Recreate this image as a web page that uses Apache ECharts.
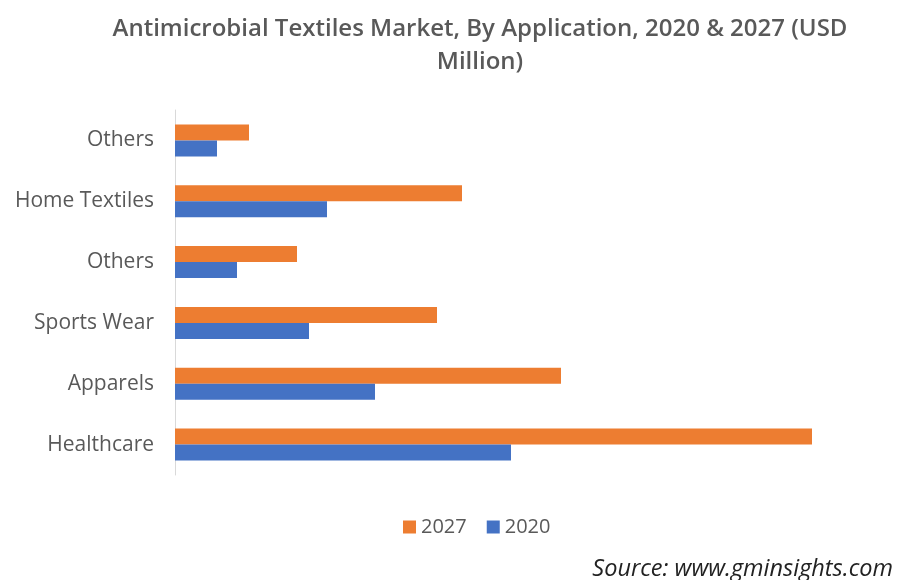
<!DOCTYPE html>
<html>
<head>
<meta charset="utf-8">
<script src="https://cdn.jsdelivr.net/npm/echarts@6/dist/echarts.min.js"></script>
<style>html,body{margin:0;padding:0;background:#fff}#c{width:902px;height:580px}</style>
</head>
<body>
<div id="c"></div>
<script>
// Categories listed bottom to top
const categories = ['Healthcare', 'Apparels', 'Sports Wear', 'Others', 'Home Textiles', 'Others'];
const values2027 = [637, 386, 262, 122, 287, 74];
const values2020 = [336, 200, 134, 62, 152, 42];
const seriesNames = ['2027', '2020'];
const titleText = 'Antimicrobial Textiles Market, By Application, 2020 & 2027 (USD\nMillion)';
const sourceText = 'Source: www.gminsights.com';

const chart = echarts.init(document.getElementById('c'));
chart.setOption({
  animation: false,
  backgroundColor: '#ffffff',
  title: [{
    text: titleText,
    left: 475, top: 8, textAlign: 'center',
    textStyle: { fontFamily: 'Open Sans', fontWeight: 600, fontSize: 24, color: '#595959', lineHeight: 33 }
  }, {
    text: sourceText,
    right: 4, top: 553,
    textStyle: { fontFamily: 'Open Sans', fontStyle: 'italic', fontWeight: 'normal', fontSize: 23.5, color: '#222222' }
  }],
  legend: {
    data: seriesNames,
    left: 398, top: 512,
    itemWidth: 13, itemHeight: 13, itemGap: 20,
    icon: 'rect',
    textStyle: { fontFamily: 'Open Sans', fontSize: 20, color: '#595959' }
  },
  grid: { left: 175, top: 110, width: 680, height: 365, containLabel: false },
  xAxis: {
    type: 'value', min: 0, max: 680,
    show: true,
    axisLine: { show: false }, axisTick: { show: false }, axisLabel: { show: false },
    splitLine: { show: false }
  },
  yAxis: {
    type: 'category', data: categories,
    axisLine: { show: true, lineStyle: { color: '#d9d9d9', width: 1 } },
    axisTick: { show: false },
    axisLabel: { margin: 21, fontFamily: 'Open Sans', fontSize: 21, color: '#595959' }
  },
  series: [{
    name: '2027', type: 'bar', data: values2027,
    itemStyle: { color: '#ED7D31' }, barWidth: 16, barGap: '0%'
  }, {
    name: '2020', type: 'bar', data: values2020,
    itemStyle: { color: '#4472C4' }, barWidth: 16, barGap: '0%'
  }]
});
</script>
</body>
</html>
